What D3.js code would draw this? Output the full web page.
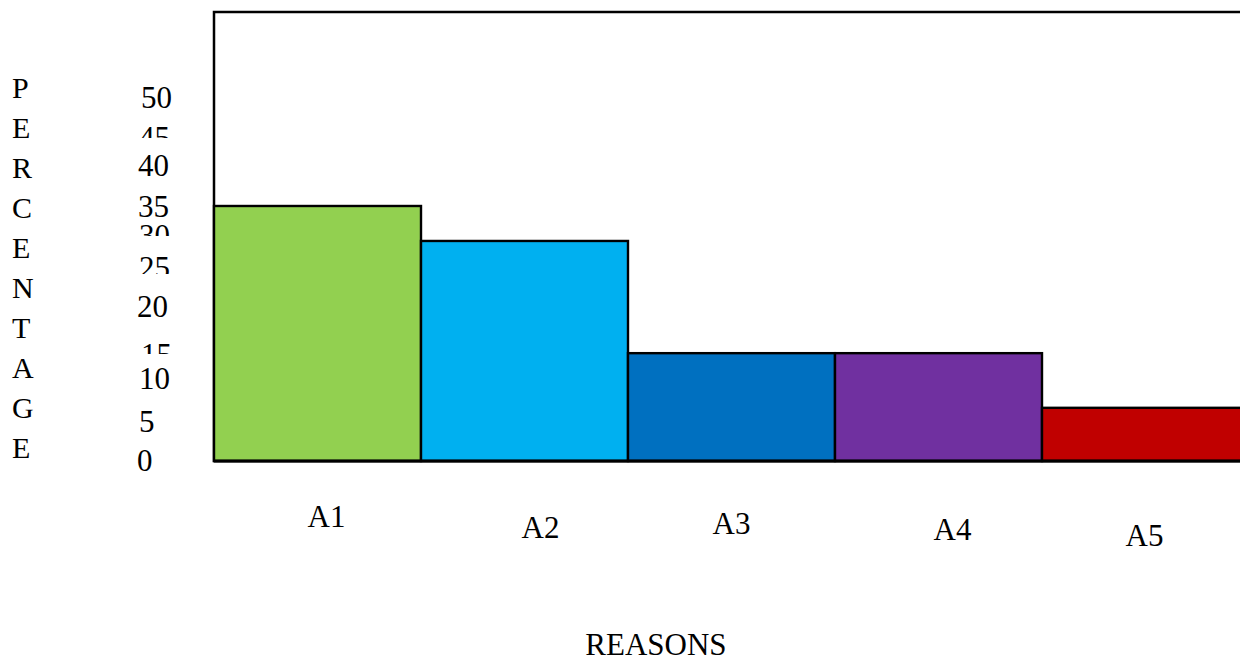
<!DOCTYPE html>
<html>
<head>
<meta charset="utf-8">
<script src="https://cdn.jsdelivr.net/npm/d3@7"></script>
<style>
  html, body { margin: 0; padding: 0; background: #fff; }
  svg { display: block; }
  text { font-family: "Liberation Serif", "Times New Roman", serif; fill: #000; }
</style>
</head>
<body>
<svg id="chart" width="1240" height="659"></svg>
<script>
// ---- data ----
const categories = ["A1", "A2", "A3", "A4", "A5"];
const values = [35, 30.2, 14.8, 14.8, 7.3];
const barColors = ["#92D050", "#00B0F0", "#0070C0", "#7030A0", "#C00000"];
const tickLabels = [0, 5, 10, 15, 20, 25, 30, 35, 40, 45, 50];
const yTitle = "PERCENTAGE";
const xTitle = "REASONS";

// ---- layout quirks of the original (pixel nudges, not data) ----
const tickDy = [0, -2.7, -9.4, 2.9, -8.8, -11.5, -7.2, 0.1, -5.1, 3.7, 0];
const tickDx = [-1, 1, 1, 3, -1, 1, 1, 0, 0, 1, 3];
const tickClip = [null, null, null, 9, null, 16, 10, null, null, 10, null]; // visible px from top
const catDx = [9, 16, 0, 14, -1];
const catDy = [0, 11, 7, 13, 19];

const svg = d3.select("#chart");
const W = 1240, H = 659;
const plot = { left: 214, top: 12, bottom: 461 };

const x = d3.scaleBand().domain(categories).range([plot.left, plot.left + 5 * 207]).paddingInner(0).paddingOuter(0);
const y = d3.scaleLinear().domain([0, 50]).range([plot.bottom, plot.bottom - 50 * 7.286]);
const labelY = d3.scaleLinear().domain([0, 50]).range([471, 108]);

const defs = svg.append("defs");

// frame
svg.append("rect")
  .attr("x", plot.left).attr("y", plot.top)
  .attr("width", 1100).attr("height", plot.bottom - plot.top)
  .attr("fill", "#fff").attr("stroke", "#000").attr("stroke-width", 2.5);

// bars
svg.selectAll("rect.bar").data(categories).enter().append("rect")
  .attr("class", "bar")
  .attr("x", d => x(d))
  .attr("y", (d, i) => y(values[i]))
  .attr("width", x.bandwidth())
  .attr("height", (d, i) => y(0) - y(values[i]))
  .attr("fill", (d, i) => barColors[i])
  .attr("stroke", "#000").attr("stroke-width", 2.4);

// baseline
svg.append("line")
  .attr("x1", plot.left).attr("x2", W + 10)
  .attr("y1", y(0)).attr("y2", y(0))
  .attr("stroke", "#000").attr("stroke-width", 3);

// y tick labels
tickLabels.forEach((t, i) => {
  const by = labelY(t) + tickDy[i];
  const txt = svg.append("text")
    .attr("x", 138 + tickDx[i]).attr("y", by)
    .attr("font-size", 31)
    .text(t);
  if (tickClip[i] !== null) {
    const id = "clip" + i;
    defs.append("clipPath").attr("id", id).append("rect")
      .attr("x", 120).attr("y", by - 23).attr("width", 80).attr("height", 3 + tickClip[i]);
    txt.attr("clip-path", `url(#${id})`);
  }
});

// y title (vertical letters)
yTitle.split("").forEach((ch, i) => {
  svg.append("text")
    .attr("x", 12).attr("y", 98 + i * 40)
    .attr("font-size", 30)
    .text(ch);
});

// category labels
svg.selectAll("text.cat").data(categories).enter().append("text")
  .attr("class", "cat")
  .attr("x", (d, i) => x(d) + x.bandwidth() / 2 + catDx[i])
  .attr("y", (d, i) => 527 + catDy[i])
  .attr("text-anchor", "middle")
  .attr("font-size", 31)
  .text(d => d);

// x title
svg.append("text")
  .attr("x", 656).attr("y", 655)
  .attr("text-anchor", "middle")
  .attr("font-size", 31)
  .text(xTitle);
</script>
</body>
</html>
